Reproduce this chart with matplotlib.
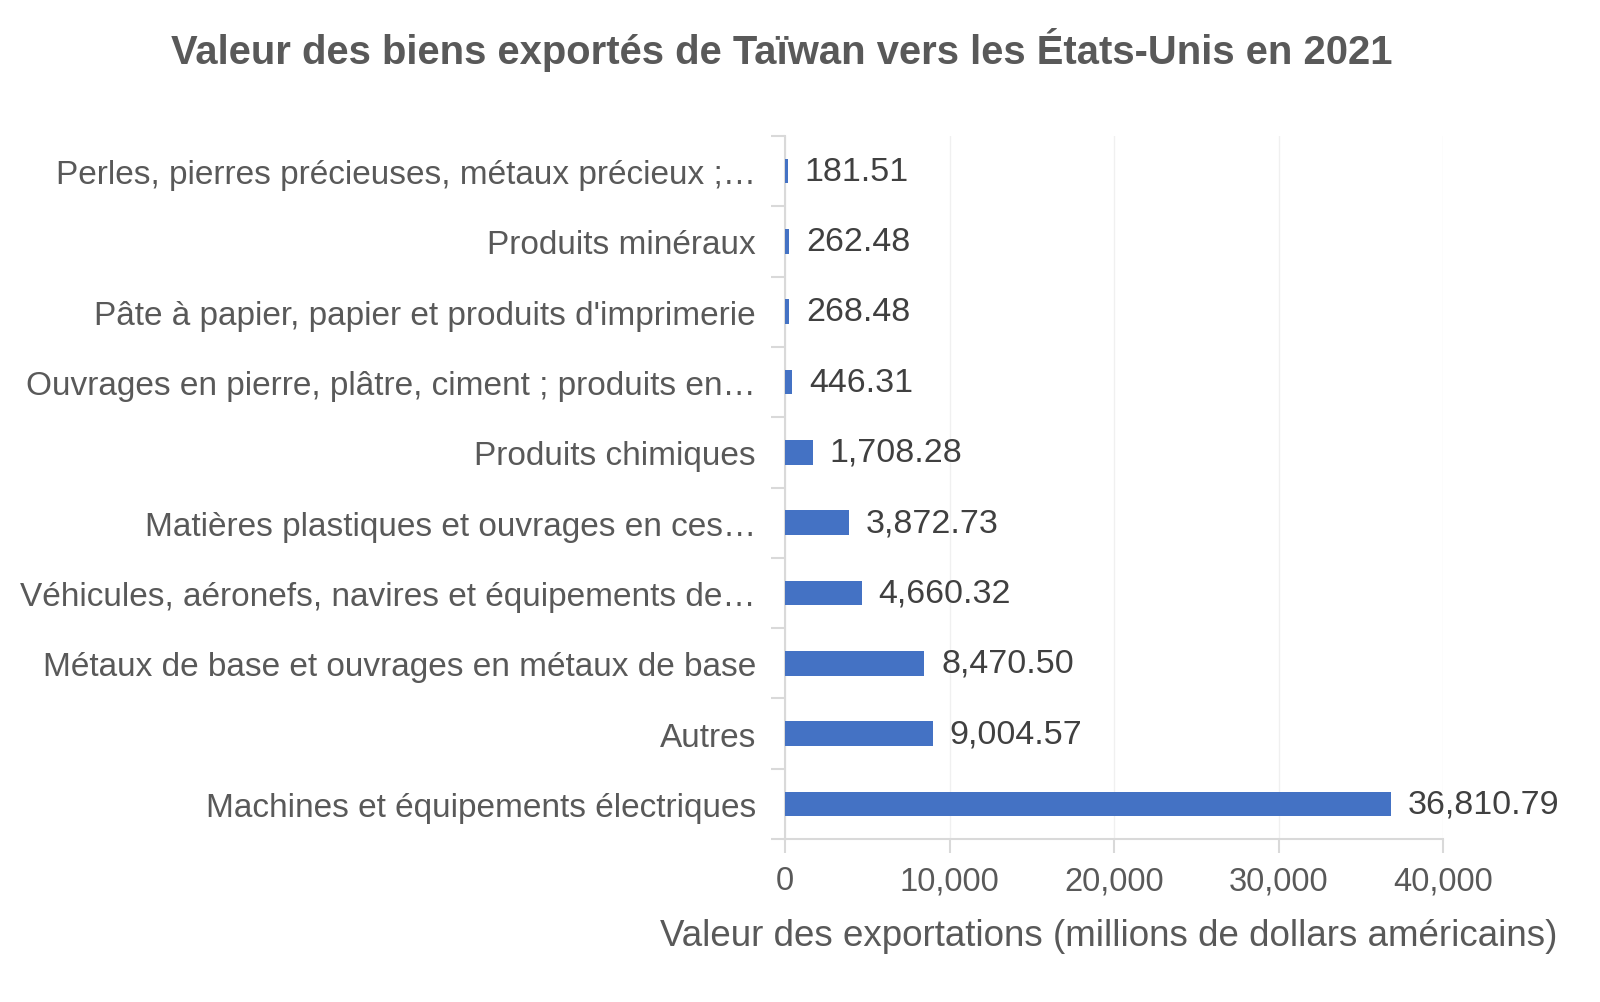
import matplotlib.pyplot as plt
from matplotlib.ticker import FuncFormatter, FixedLocator

plt.rcParams["font.family"] = ["Liberation Sans", "DejaVu Sans"]

# Data (top to bottom as drawn)
categories = [
    "Perles, pierres précieuses, métaux précieux ;…",
    "Produits minéraux",
    "Pâte à papier, papier et produits d'imprimerie",
    "Ouvrages en pierre, plâtre, ciment ; produits en…",
    "Produits chimiques",
    "Matières plastiques et ouvrages en ces…",
    "Véhicules, aéronefs, navires et équipements de…",
    "Métaux de base et ouvrages en métaux de base",
    "Autres",
    "Machines et équipements électriques",
]
values = [181.51, 262.48, 268.48, 446.31, 1708.28, 3872.73, 4660.32, 8470.50, 9004.57, 36810.79]
x_ticks = [0, 10000, 20000, 30000, 40000]

bar_color = "#4472C4"
label_gray = "#595959"
value_gray = "#404040"
axis_gray = "#d9d9d9"

fig = plt.figure(figsize=(16, 10.03), dpi=100)
ax = fig.add_axes([785 / 1600, 1 - 840 / 1003, 658 / 1600, 703 / 1003])

n = len(categories)
ypos = list(range(n))
ax.barh(ypos, values, height=0.35, color=bar_color, zorder=3)

ax.set_xlim(0, 40000)
ax.set_ylim(n - 0.5, -0.5)

# category labels
ax.set_yticks(ypos)
ax.set_yticklabels(categories, fontsize=24, color=label_gray)
ax.tick_params(axis="y", which="major", length=0, pad=21)
ax.yaxis.set_minor_locator(FixedLocator([i - 0.5 for i in range(n + 1)]))
ax.tick_params(axis="y", which="minor", length=10, color=axis_gray, width=1.5)

# x axis
ax.set_xticks(x_ticks)
ax.xaxis.set_major_formatter(FuncFormatter(lambda v, p: f"{v:,.0f}"))
ax.tick_params(axis="x", which="major", length=10, color=axis_gray, width=1.5,
               labelsize=23.5, labelcolor=label_gray, pad=9)
ax.grid(axis="x", color="#f0f0f0", linewidth=1, zorder=0)

for side in ["top", "right"]:
    ax.spines[side].set_visible(False)
for side in ["left", "bottom"]:
    ax.spines[side].set_color(axis_gray)
    ax.spines[side].set_linewidth(1.5)

# value labels
for y, v in zip(ypos, values):
    ax.annotate(f"{v:,.2f}", xy=(v, y), xytext=(12, 0), textcoords="offset points",
                ha="left", va="center", fontsize=24.5, color=value_gray)

fig.text(782 / 1600, 1 - 50 / 1003, "Valeur des biens exportés de Taïwan vers les États-Unis en 2021",
         ha="center", va="center", fontsize=28.8, fontweight="bold", color=label_gray)
fig.text(1557 / 1600, 1 - 937 / 1003, "Valeur des exportations (millions de dollars américains)",
         ha="right", va="center", fontsize=26.5, color=label_gray)

fig.savefig("out.png", dpi=100, facecolor="white")
